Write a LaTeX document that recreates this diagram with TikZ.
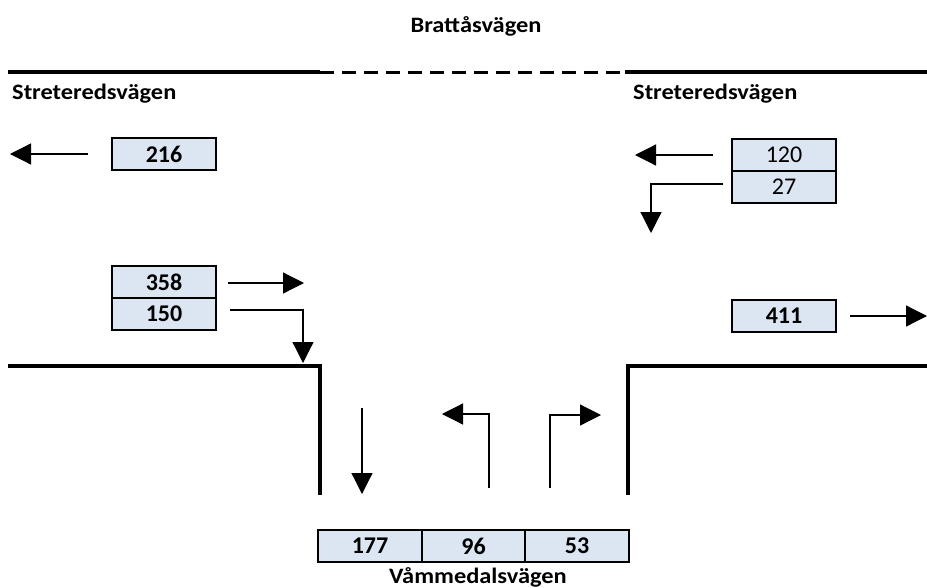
\documentclass[tikz,border=0pt]{standalone}
\usepackage{fontspec}
\setmainfont{Carlito}
\newfontfamily\widefont{Carlito}[FakeStretch=1.11]
\usetikzlibrary{arrows.meta}
\definecolor{boxblue}{HTML}{DCE6F2}
\begin{document}
\begin{tikzpicture}[x=1pt,y=-1pt,
  road/.style={line width=4pt},
  cnt/.style={draw, line width=1.9pt, fill=boxblue, minimum width=104pt, minimum height=32pt, inner sep=0pt, font=\fontsize{24}{26}\selectfont\bfseries},
  cntr/.style={cnt, font=\fontsize{24}{26}\selectfont},
  flow/.style={line width=1.2pt, -{Triangle[length=21pt,width=21pt]}},
  lbl/.style={font=\widefont\fontsize{22}{24}\selectfont\bfseries, inner sep=0pt}]
\useasboundingbox (0,0) rectangle (927,587);
% roads
\draw[road] (8,72) -- (320,72);
\draw[line width=3pt, dash pattern=on 14pt off 8pt] (320,72) -- (625,72);
\draw[road] (625,72) -- (927,72);
\draw[road] (8,366) -| (320,495);
\draw[road] (927,366) -| (628,495);
% labels
\node[lbl] (top) at (476,26) {Brattåsvägen};
\node[lbl, anchor=west] (swl) at (12,94) {Streteredsvägen};
\node[lbl, anchor=west] (swr) at (633,94) {Streteredsvägen};
\node[lbl] (bot) at (478,577) {Våmmedalsvägen};
% boxes
\node[cnt] (b216) at (164,154) {216};
\node[cntr] (b120) at (784,155) {120};
\node[cntr] (b27) at (784,187) {27};
\node[cnt] (b358) at (164,282) {358};
\node[cnt] (b150) at (164,314) {150};
\node[cnt] (b411) at (784,316) {411};
\node[cnt, minimum width=103.5pt] (b177) at (370,546) {177};
\node[cnt, minimum width=103.5pt] (b96) at (473.5,546) {96};
\node[cnt, minimum width=103.5pt] (b53) at (577,546) {53};
% arrow coordinates
\coordinate (a1s) at (88,154);  \coordinate (a1e) at (10,154);
\coordinate (a2s) at (713,155); \coordinate (a2e) at (635,155);
\coordinate (a3s) at (723,184); \coordinate (a3e) at (651,233);
\coordinate (a4s) at (228,283); \coordinate (a4e) at (304,283);
\coordinate (a5s) at (230,310); \coordinate (a5e) at (303,363);
\coordinate (a6s) at (850,316); \coordinate (a6e) at (927,316);
\coordinate (a7s) at (362,408); \coordinate (a7e) at (362,494);
\coordinate (a8s) at (489,488); \coordinate (a8e) at (442,414);
\coordinate (a9s) at (550,488); \coordinate (a9e) at (601,415);
\draw[flow] (a1s) -- (a1e);
\draw[flow] (a2s) -- (a2e);
\draw[flow] (a3s) -| (a3e);
\draw[flow] (a4s) -- (a4e);
\draw[flow] (a5s) -| (a5e);
\draw[flow] (a6s) -- (a6e);
\draw[flow] (a7s) -- (a7e);
\draw[flow] (a8s) |- (a8e);
\draw[flow] (a9s) |- (a9e);
\end{tikzpicture}
\end{document}
